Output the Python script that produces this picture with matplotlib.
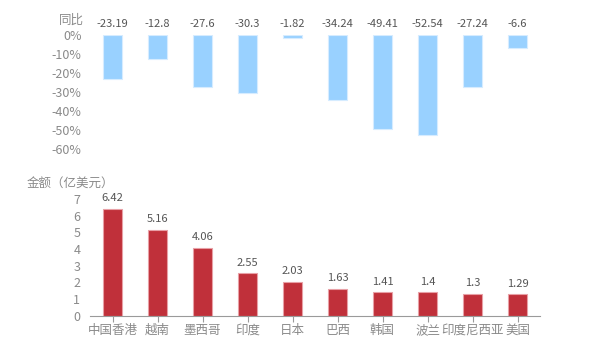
import numpy as np
import matplotlib.pyplot as plt

plt.rcParams['font.family'] = ['Noto Sans CJK SC', 'DejaVu Sans']

countries = ['中国香港', '越南', '墨西哥', '印度', '日本', '巴西', '韩国', '波兰', '印度尼西亚', '美国']
amount = [6.42, 5.16, 4.06, 2.55, 2.03, 1.63, 1.41, 1.4, 1.3, 1.29]
yoy = [-23.19, -12.8, -27.6, -30.3, -1.82, -34.24, -49.41, -52.54, -27.24, -6.6]
yoy_labels = ['-23.19', '-12.8', '-27.6', '-30.3', '-1.82', '-34.24', '-49.41', '-52.54', '-27.24', '-6.6']
amt_labels = ['6.42', '5.16', '4.06', '2.55', '2.03', '1.63', '1.41', '1.4', '1.3', '1.29']

tick_c = '#8a8a8a'
lab_c = '#555555'
x = np.arange(len(countries))

fig = plt.figure(figsize=(6, 3.5), dpi=100)
ax1 = fig.add_axes([0.15, 0.574, 0.75, 0.326])
ax2 = fig.add_axes([0.15, 0.098, 0.75, 0.3334])

# top: year-on-year change
ax1.bar(x, yoy, width=0.44, color='#99d1ff', edgecolor='#d6ecff', linewidth=0.8)
for i, s in enumerate(yoy_labels):
    ax1.annotate(s, (x[i], 0), xytext=(0, 4), textcoords='offset points',
                 ha='center', va='bottom', fontsize=8, color=lab_c)
ax1.set_xlim(-0.5, len(x) - 0.5)
ax1.set_ylim(-60, 0)
ax1.set_yticks(np.arange(-60, 1, 10))
ax1.set_yticklabels([f'{v}%' for v in range(-60, 1, 10)])
ax1.set_xticks([])
for sp in ax1.spines.values():
    sp.set_visible(False)
ax1.tick_params(axis='y', length=0, colors=tick_c, labelsize=9, pad=6)
ax1.text(-0.042, 1.07, '同比', transform=ax1.transAxes, ha='center', va='bottom',
         fontsize=9, color=tick_c)

# bottom: amount
ax2.bar(x, amount, width=0.44, color='#c0303a', edgecolor='#e8a0a6', linewidth=0.8)
for i, s in enumerate(amt_labels):
    ax2.annotate(s, (x[i], amount[i]), xytext=(0, 4), textcoords='offset points',
                 ha='center', va='bottom', fontsize=8, color=lab_c)
ax2.set_xlim(-0.5, len(x) - 0.5)
ax2.set_ylim(0, 7)
ax2.set_yticks(range(0, 8))
ax2.set_xticks(x)
ax2.set_xticklabels(countries)
for s in ['top', 'right', 'left']:
    ax2.spines[s].set_visible(False)
ax2.spines['bottom'].set_color('#9a9a9a')
ax2.tick_params(axis='y', length=0, colors=tick_c, labelsize=9, pad=7)
ax2.tick_params(axis='x', length=4, color='#9a9a9a', labelcolor=tick_c, labelsize=9, pad=2)
ax2.text(-0.043, 1.08, '金额（亿美元）', transform=ax2.transAxes, ha='center', va='bottom',
         fontsize=9, color=tick_c)

fig.savefig('out.png', dpi=100)
